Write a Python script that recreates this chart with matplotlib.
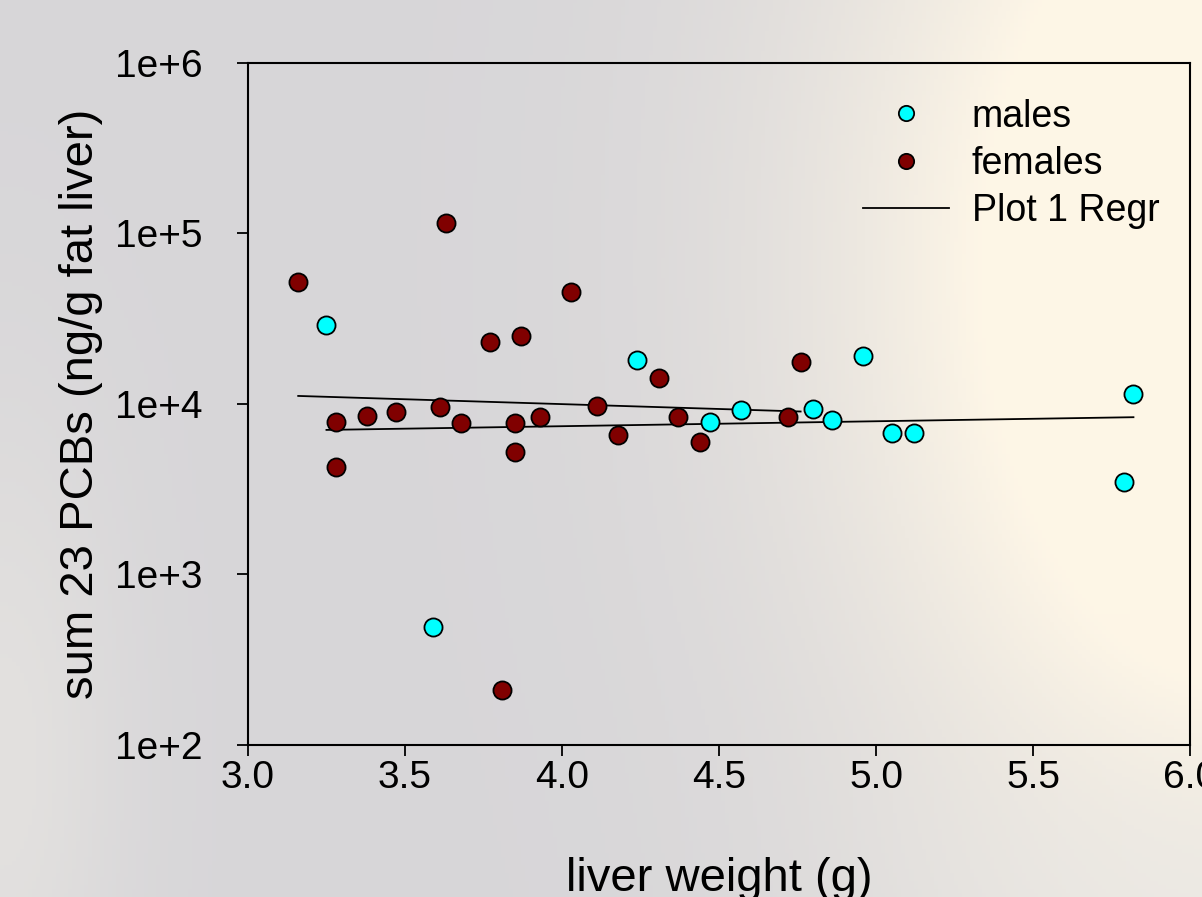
import numpy as np
import matplotlib.pyplot as plt
from matplotlib.lines import Line2D

plt.rcParams['font.family'] = ['Liberation Sans', 'DejaVu Sans']

# liver weight (g) and sum 23 PCBs (ng/g fat liver)
male_weight = [3.25, 3.59, 4.24, 4.47, 4.57, 4.80, 4.86, 4.96, 5.05, 5.12, 5.79, 5.82]
male_pcb = [29200, 490, 18200, 7790, 9170, 9290, 8000, 19200, 6720, 6720, 3470, 11400]

female_weight = [3.16, 3.28, 3.28, 3.38, 3.47, 3.61, 3.63, 3.68, 3.77, 3.81, 3.85,
                 3.85, 3.87, 3.93, 4.03, 4.11, 4.18, 4.31, 4.37, 4.44, 4.72, 4.76]
female_pcb = [52100, 7790, 4250, 8450, 8920, 9540, 115600, 7690, 23200, 210, 7690,
              5200, 24900, 8340, 45000, 9660, 6540, 14100, 8340, 5950, 8340, 17500]

fig = plt.figure(figsize=(12.02, 8.97), dpi=100)

# blurred photo-like backdrop: grey on the left, cream towards the right
bg = fig.add_axes([0, 0, 1, 1], zorder=-10)
gx, gy = np.meshgrid(np.linspace(0, 1, 300), np.linspace(0, 1, 225))
grey = np.array([0.845, 0.84, 0.85])
cream = np.array([0.995, 0.965, 0.905])
w = np.exp(-(((gx - 1.05) / 0.32) ** 2 + ((gy - 0.3) / 0.65) ** 2))
w = np.clip(w * 1.7, 0, 1)
img = grey * (1 - w[..., None]) + cream * w[..., None]
light = np.exp(-(((gx - 0.0) / 0.1) ** 2 + ((gy - 0.85) / 0.4) ** 2)) * 0.6
img = img * (1 - light[..., None]) + np.array([0.92, 0.91, 0.89]) * light[..., None]
br = np.exp(-(((gx - 1.0) / 0.25) ** 2 + ((gy - 1.0) / 0.15) ** 2)) * 0.6
img = img * (1 - br[..., None]) + np.array([0.93, 0.92, 0.9]) * br[..., None]
bg.imshow(img, aspect='auto', extent=[0, 1, 1, 0])
bg.axis('off')

ax = fig.add_axes([0.2063, 0.1695, 0.7837, 0.7605])
ax.patch.set_alpha(0)

# regression lines (fit of log10 values against weight)
for xs, ys in [(female_weight, female_pcb), (male_weight, male_pcb)]:
    k, b = np.polyfit(xs, np.log10(ys), 1)
    xl = np.array([min(xs), max(xs)])
    ax.plot(xl, 10 ** (k * xl + b), color='black', lw=1.3, zorder=2)

ax.scatter(male_weight, male_pcb, s=170, color='#00ffff', edgecolor='black', lw=1.3, zorder=3)
ax.scatter(female_weight, female_pcb, s=170, color='#800000', edgecolor='black', lw=1.3, zorder=3)

ax.set_yscale('log')
ax.set_xlim(3.0, 6.0)
ax.set_ylim(1e2, 1e6)
ax.set_xticks([3.0, 3.5, 4.0, 4.5, 5.0, 5.5, 6.0])
ax.set_xticklabels(['3.0', '3.5', '4.0', '4.5', '5.0', '5.5', '6.0'])
ax.set_yticks([1e2, 1e3, 1e4, 1e5, 1e6])
ax.set_yticklabels(['1e+2', '1e+3', '1e+4', '1e+5', '1e+6'])
ax.minorticks_off()
ax.tick_params(direction='out', length=8, width=1.3, labelsize=28)
ax.tick_params(axis='x', pad=3)
ax.tick_params(axis='y', pad=25)
for sp in ax.spines.values():
    sp.set_linewidth(1.5)

ax.set_xlabel('liver weight (g)', fontsize=34, labelpad=44)
ax.set_ylabel('sum 23 PCBs (ng/g fat liver)', fontsize=34, labelpad=8)

handles = [
    Line2D([], [], ls='none', marker='o', ms=11, mfc='#00ffff', mec='black', mew=1.3),
    Line2D([], [], ls='none', marker='o', ms=11, mfc='#800000', mec='black', mew=1.3),
    Line2D([], [], color='black', lw=1.3),
]
ax.legend(handles, ['males', 'females', 'Plot 1 Regr'], loc='upper left', frameon=False,
          fontsize=27, handlelength=2.3, handletextpad=0.6, labelspacing=0.3,
          bbox_to_anchor=(0.617, 0.997))

fig.savefig('out.png', dpi=100)
